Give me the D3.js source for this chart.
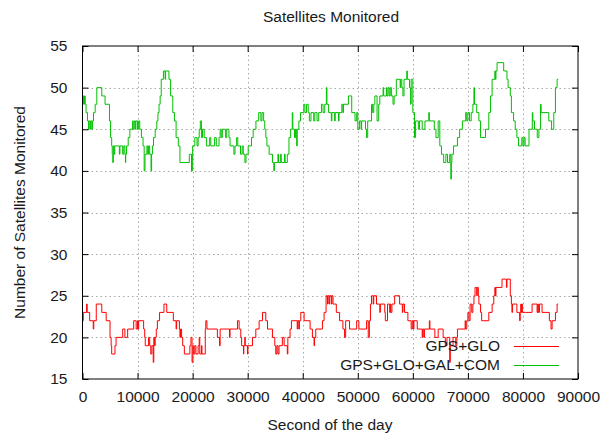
<!DOCTYPE html>
<html>
<head>
<meta charset="utf-8">
<script src="https://cdn.jsdelivr.net/npm/d3@7"></script>
<style>
  html, body { margin: 0; padding: 0; background: #fff; }
  svg text { font-family: "Liberation Sans", Arial, sans-serif; fill: #1a1a1a; }
</style>
</head>
<body>
<svg id="chart" width="615" height="434"></svg>
<script>
// ---- data ----
const title = "Satellites Monitored";
const xLabel = "Second of the day";
const yLabel = "Number of Satellites Monitored";
const xTicks = [0, 10000, 20000, 30000, 40000, 50000, 60000, 70000, 80000, 90000];
const yTicks = [15, 20, 25, 30, 35, 40, 45, 50, 55];
const seriesNames = ["GPS+GLO", "GPS+GLO+GAL+COM"];

// GPS+GLO : change points (second of day, satellites)
const redT = [0,150,750,850,1300,1950,2050,2500,3500,4300,5000,5200,5300,5900,6100,7300,7700,8200,9300,9750,10000,10100,10200,11100,11300,11400,12000,12200,12400,12600,12850,12950,13100,13200,13400,13600,14000,14800,15300,16500,17000,17100,17600,17700,17800,18000,18200,18500,19500,19700,19900,20050,20200,20400,20600,21000,21200,21300,21600,21700,22300,22400,22600,24500,24900,25000,26700,26800,28150,28450,28750,28900,29240,29300,29480,29560,29960,30050,30870,31480,32080,32690,33290,33600,34500,34930,35100,35300,35500,35700,36300,36620,37200,37300,37700,37950,39000,39100,39300,39400,39650,40250,41340,41760,42060,42150,42370,43580,43880,44240,44500,44600,44800,44900,45200,45300,45500,46100,46700,47300,47600,47800,48500,49800,50200,51600,51900,52100,52300,52500,52800,52900,53400,54000,54100,54900,55000,55400,55800,55900,56000,56200,56700,57600,58100,58200,58500,59100,59700,59900,60100,60200,60800,61700,61800,62000,62100,63000,63100,64000,64600,65500,65900,66200,66700,66800,67300,67800,68000,68100,69500,69600,69800,70000,70200,70400,70700,70900,71100,71300,71600,71700,71900,72000,72300,72500,73800,74400,74700,74900,75000,75100,76200,77000,77100,77700,77900,78000,78100,78900,79400,79500,79600,79700,79800,79900,80450,81660,82570,82700,82800,83000,83470,84800,85100,85300,85900,86200,86400];
const redV = [22,23,24,23,22,21,22,24,23,22,20,19,18,19,20,21,20,21,22,21,22,21,22,21,20,19,20,19,18,19,17,20,19,20,21,22,23,24,23,22,21,22,21,20,21,20,19,18,19,20,17,19,18,19,18,19,20,18,19,18,21,22,21,20,19,21,20,21,22,21,20,19,18,19,20,19,18,19,20,21,22,23,22,21,20,19,18,19,18,19,20,19,18,20,21,22,21,22,21,22,23,22,21,20,19,20,21,22,23,25,24,25,24,25,24,25,24,23,22,21,20,22,21,22,21,22,20,22,24,25,24,25,24,23,24,23,22,24,23,24,23,24,25,24,23,24,23,22,21,22,21,22,21,20,21,20,21,22,21,20,21,20,19,20,17,19,20,19,20,21,22,21,22,23,22,24,23,24,25,26,25,26,25,24,23,22,23,24,25,26,25,26,27,26,27,25,24,23,24,23,22,23,24,23,24,23,23,24,23,24,23,24,23,22,21,22,23,24,24];

// GPS+GLO+GAL+COM : change points (second of day, satellites)
const greenT = [0,200,350,500,650,900,1100,1200,1400,1500,1700,1800,2000,2300,2600,3500,4100,4900,5100,5300,5400,5500,5600,5750,5850,6700,6800,7300,7500,7700,7800,7850,8000,8300,8600,9100,9200,9400,9600,9700,10000,10200,10400,10700,11000,11200,11350,11700,11850,12000,12200,12450,12550,12700,12900,13200,13500,13700,13900,14100,14300,14700,15000,15100,15700,16000,16400,16700,17000,17400,17700,19400,19800,20000,20400,20800,21000,21200,21400,21600,21800,22100,22500,23100,23300,24000,24300,24800,25000,25200,25400,26000,26200,26600,26800,27500,27700,28000,28200,28700,29000,29200,29500,29700,30100,30700,31000,31500,32000,32400,32600,32900,33100,33300,33500,33900,34500,34750,34850,35500,35600,36000,36100,36700,36800,37200,37500,37800,38100,38200,38500,38700,38900,39000,39300,39600,40200,40400,40700,41000,41200,41500,42000,42200,42600,42900,43400,43700,44000,44300,44400,44700,45200,45300,45800,45900,46500,46600,47100,47300,47400,48300,48900,49500,49800,50000,50300,50600,50700,51400,51600,51800,52500,52700,52900,53100,53500,53800,54000,54600,54700,55200,55300,55500,55700,55900,56100,56400,56600,57000,57700,57800,58000,58200,58400,58900,59000,59400,59600,59700,60000,60300,60500,61000,61200,61700,62200,62900,63000,63900,64200,64600,64900,65200,65600,66000,66300,66700,66900,67000,67100,67400,68100,68500,69000,69600,69800,70000,70300,70600,70900,71100,71200,71600,72000,72300,73200,73800,74100,74400,74900,75000,75100,75300,76500,77100,77300,77700,77900,78300,78600,78900,79200,79800,80000,80200,80400,81100,81700,81800,82100,82600,82900,83200,83300,84700,85200,85600,85900,86200,86400];
const greenV = [49,48,49,48,47,46,45,46,45,46,45,46,47,48,50,49,48,46,44,43,42,41,43,42,43,42,43,42,43,42,41,42,43,44,45,46,45,46,45,46,45,46,45,44,43,40,42,43,42,43,42,40,42,43,44,45,46,47,48,49,51,52,51,52,51,49,47,46,44,43,41,42,40,43,44,43,44,45,46,44,45,44,43,44,43,44,43,44,45,44,45,44,45,44,43,42,43,44,43,42,43,42,41,42,43,44,45,46,47,46,47,46,45,44,43,42,41,40,41,42,41,42,41,42,41,42,44,45,47,45,44,45,43,45,46,47,48,47,48,47,46,47,46,47,46,47,48,47,48,50,48,47,46,47,46,47,46,47,48,47,48,49,47,46,47,45,46,45,46,45,44,46,48,47,48,49,46,48,49,50,49,50,49,50,49,50,49,48,49,51,50,51,50,49,51,52,51,50,48,51,47,44,46,45,46,45,46,47,46,45,44,46,43,42,41,42,41,42,39,41,42,43,44,45,46,47,46,47,46,47,48,50,48,47,46,44,45,47,49,51,52,51,52,53,52,51,50,49,47,46,45,44,43,44,43,44,43,45,47,46,45,44,45,48,47,46,45,47,50,51,51];

// ---- layout ----
const W = 615, H = 434;
const margin = { left: 82.5, right: 37, top: 46, bottom: 55 };
const svg = d3.select("#chart");
const x = d3.scaleLinear().domain([0, 90000]).range([margin.left, W - margin.right]);
const y = d3.scaleLinear().domain([15, 55]).range([H - margin.bottom, margin.top]);
const FS = 15.5;

// grid
const grid = svg.append("g").attr("stroke", "#a8a8a8").attr("stroke-width", 1)
  .attr("stroke-dasharray", "1.5,3").attr("fill", "none");
xTicks.slice(1, -1).forEach(t => {
  grid.append("line").attr("x1", Math.round(x(t)) + 0.5).attr("x2", Math.round(x(t)) + 0.5)
    .attr("y1", y(55)).attr("y2", y(15));
});
yTicks.slice(1, -1).forEach(t => {
  grid.append("line").attr("y1", Math.round(y(t)) + 0.5).attr("y2", Math.round(y(t)) + 0.5)
    .attr("x1", x(0)).attr("x2", x(90000));
});

// series
function pts(T, V) { return T.map((t, i) => [t, V[i]]); }
const line = d3.line().x(d => x(d[0])).y(d => y(d[1])).curve(d3.curveStepAfter);
const colors = ["#ff0000", "#00c000"];
svg.append("path").datum(pts(greenT, greenV)).attr("d", line)
  .attr("fill", "none").attr("stroke", colors[1]).attr("stroke-width", 1);
svg.append("path").datum(pts(redT, redV)).attr("d", line)
  .attr("fill", "none").attr("stroke", colors[0]).attr("stroke-width", 1);

// axes (ticks inward, mirrored)
const tl = 6;
const axB = svg.append("g").attr("transform", `translate(0,${y(15)})`)
  .call(d3.axisBottom(x).tickValues(xTicks).tickSize(-tl).tickPadding(12).tickFormat(d3.format("d")));
const axT = svg.append("g").attr("transform", `translate(0,${y(55)})`)
  .call(d3.axisTop(x).tickValues(xTicks).tickSize(-tl).tickFormat(""));
const axL = svg.append("g").attr("transform", `translate(${x(0)},0)`)
  .call(d3.axisLeft(y).tickValues(yTicks).tickSize(-tl).tickPadding(15).tickFormat(d3.format("d")));
const axR = svg.append("g").attr("transform", `translate(${x(90000)},0)`)
  .call(d3.axisRight(y).tickValues(yTicks).tickSize(-tl).tickFormat(""));
[axB, axT, axL, axR].forEach(g => {
  g.select(".domain").remove();
  g.selectAll("line").attr("stroke", "#000");
  g.selectAll("text").style("font-size", FS + "px").attr("fill", "#1a1a1a");
});

// border
svg.append("rect").attr("x", x(0)).attr("y", y(55))
  .attr("width", x(90000) - x(0)).attr("height", y(15) - y(55))
  .attr("fill", "none").attr("stroke", "#000").attr("stroke-width", 1);

// labels
svg.append("text").attr("x", 331).attr("y", 22).attr("text-anchor", "middle")
  .style("font-size", FS + "px").text(title);
svg.append("text").attr("x", 330).attr("y", 430).attr("text-anchor", "middle")
  .style("font-size", FS + "px").text(xLabel);
svg.append("text").attr("transform", `translate(25,${(y(15) + y(55)) / 2}) rotate(-90)`)
  .attr("text-anchor", "middle").style("font-size", FS + "px").text(yLabel);

// legend (no box)
const legY = [346, 365];
seriesNames.forEach((n, i) => {
  svg.append("text").attr("x", 500).attr("y", legY[i] + 5).attr("text-anchor", "end")
    .style("font-size", FS + "px").text(n);
  svg.append("line").attr("x1", 514).attr("x2", 559).attr("y1", legY[i] + 0.5).attr("y2", legY[i] + 0.5)
    .attr("stroke", colors[i]).attr("stroke-width", 1);
});
</script>
</body>
</html>
